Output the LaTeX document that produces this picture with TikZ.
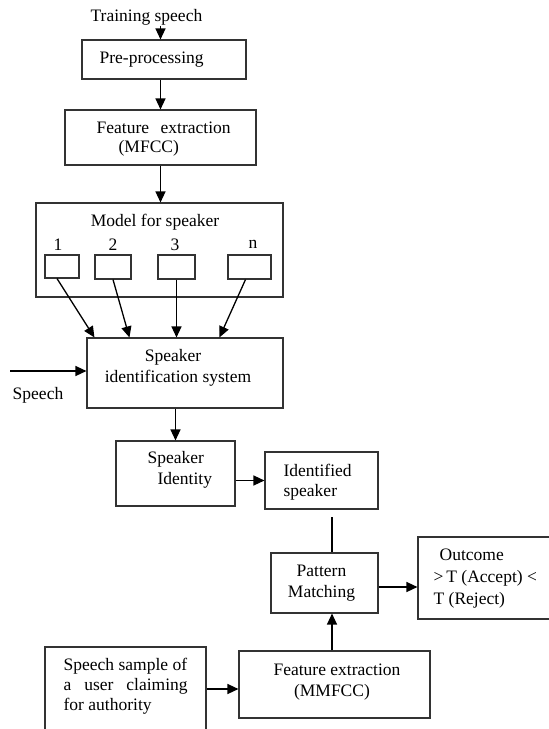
\documentclass[tikz,border=0pt]{standalone}
\usepackage{fontspec}
\setmainfont{Liberation Serif}
\usetikzlibrary{arrows.meta,calc}

\begin{document}
\begin{tikzpicture}[x=1pt,y=-1pt,line width=1.3pt,
  box/.style={draw=black!80,line width=1.1pt,inner sep=0pt},
  txt/.style={inner sep=0pt,align=left,font=\fontsize{17.5}{21}\selectfont},
  arr/.style={-{Triangle[length=11pt,width=10pt]}}]
\useasboundingbox (0,0) rectangle (549,729);
% ---------- training part ----------
\node[txt,anchor=west] (train) at (90,17) {Training speech};
\node[box,minimum width=164,minimum height=39] (pre) at (164,59.5) {};
\node[txt,anchor=west] (pretxt) at (99,60) {Pre-processing};
\node[box,minimum width=191,minimum height=55] (fe) at (160.5,137.5) {};
\node[txt,anchor=west] (fetxt) at (96,139.5)
  {\makebox[134pt][s]{Feature extraction}\\[-2pt]\hspace*{22pt}(MFCC)};
\draw[arr] (train.south -| fe.north) -- (pre.north -| fe.north);
\draw[arr] (pre.south -| fe.north) -- (fe.north);
% ---------- speaker models ----------
\node[box,minimum width=247,minimum height=94] (model) at (159.5,250) {};
\node[txt] (modeltxt) at (155,222) {Model for speaker};
\node[box,minimum width=34,minimum height=23] (m1) at (62,266.5) {};
\node[box,minimum width=36,minimum height=24] (m2) at (113,267) {};
\node[box,minimum width=37,minimum height=24] (m3) at (176.5,267) {};
\node[box,minimum width=43,minimum height=24] (mn) at (249.5,267) {};
\node[txt] (n1) at (58,245) {1};
\node[txt] (n2) at (113,245) {2};
\node[txt] (n3) at (175,245) {3};
\node[txt] (nn) at (253,244) {n};
\draw[arr] (fe.south) -- (fe.south |- model.north);
% ---------- identification ----------
\node[box,minimum width=196,minimum height=70] (sis) at (185,373) {};
\node[txt,align=center] (sistxt) at (178,368)
  {\hspace*{-10pt}Speaker\\identification system};
\draw[arr] ($(m1.south)+(-5,0)$) -- ($(sis.north west)+(8,0)$);
\draw[arr] (m2.south) -- ($(sis.north west)+(43,0)$);
\draw[arr] (m3.south) -- (m3.south |- sis.north);
\draw[arr] ($(mn.south)+(-4,0)$) -- ($(sis.north west)+(133,0)$);
\coordinate (spin) at (10,371);
\node[txt] (speech) at (38,395) {Speech};
\draw[arr] (spin) -- (spin -| sis.west);
\node[box,minimum width=119,minimum height=65] (sid) at (175.5,473.5) {};
\node[txt,anchor=west] (sidtxt) at (147,470)
  {Speaker\\\hspace*{10pt}Identity};
\draw[arr] (sid.north |- sis.south) -- (sid.north);
\node[box,minimum width=113,minimum height=57] (ids) at (321.5,480.5) {};
\node[txt,anchor=west] (idstxt) at (283,482) {Identified\\[-1pt]speaker};
\draw[arr] (ids.west -| sid.east) -- (ids.west);
% ---------- verification ----------
\node[box,minimum width=107,minimum height=60] (pm) at (324.5,583) {};
\node[txt,align=center] (pmtxt) at (321.5,583.5) {Pattern\\Matching};
\coordinate (gap) at (332,517);
\draw (gap) -- (gap |- pm.north);
\node[box,minimum width=147,minimum height=82] (out) at (491.5,578) {};
\node[txt,anchor=west] (outtxt) at (433,578.5)
  {\hspace*{6pt}Outcome\\[1pt]{>}\,T (Accept) {<}\\[1pt]T (Reject)};
\draw[arr] ([yshift=-4pt]pm.east) -- ([yshift=-4pt]pm.east -| out.west);
\node[box,minimum width=161,minimum height=84] (samp) at (125.5,689) {};
\node[txt,anchor=west] (samptxt) at (63,686.5)
  {Speech sample of\\[-1pt]\makebox[124pt][s]{a user claiming}\\[-1pt]for authority};
\node[box,minimum width=191,minimum height=67] (mm) at (334.5,684.5) {};
\node[txt,align=center] (mmtxt) at (332,682)
  {\hspace*{10pt}Feature extraction\\(MMFCC)};
\draw[arr] (samp.east) -- (samp.east -| mm.west);
\draw[arr] (mm.north -| gap) -- (pm.south -| gap);
\end{tikzpicture}
\end{document}
